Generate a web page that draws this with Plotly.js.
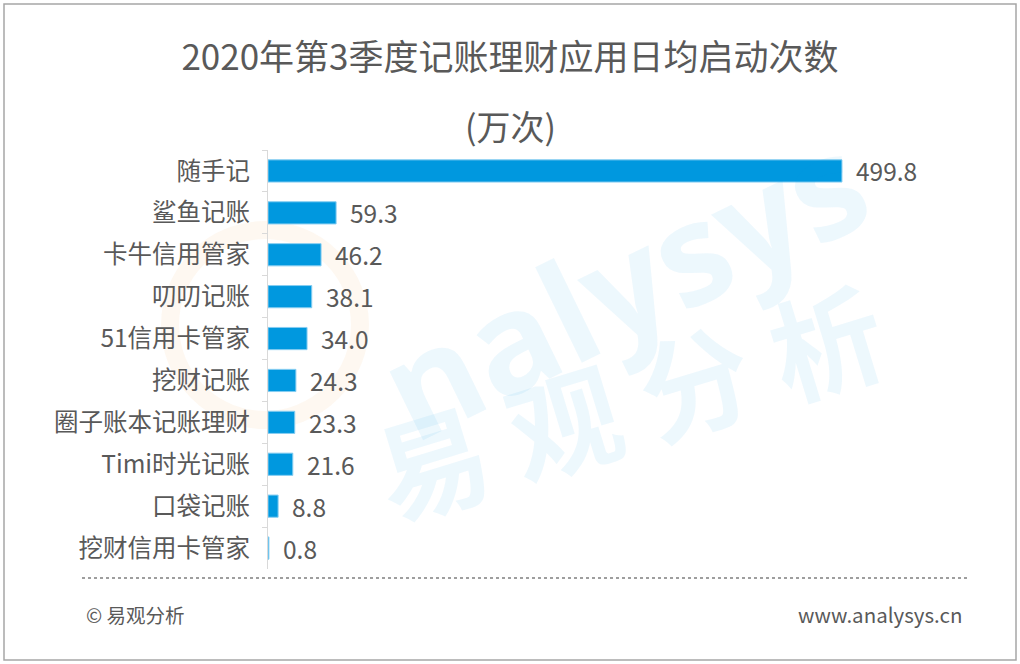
<!DOCTYPE html>
<html>
<head>
<meta charset="utf-8">
<script src="https://cdn.plot.ly/plotly-3.0.1.min.js"></script>
<style>html,body{margin:0;padding:0;background:#fff;}#chart{width:1020px;height:664px;}</style>
</head>
<body>
<div id="chart"></div>
<script>
// ---- data ----
const categories = ["随手记","鲨鱼记账","卡牛信用管家","叨叨记账","51信用卡管家","挖财记账","圈子账本记账理财","Timi时光记账","口袋记账","挖财信用卡管家"];
const values = [499.8, 59.3, 46.2, 38.1, 34.0, 24.3, 23.3, 21.6, 8.8, 0.8];
const titleLine1 = "2020年第3季度记账理财应用日均启动次数";
const titleLine2 = "(万次)";
const footerLeft = "© 易观分析";
const footerRight = "www.analysys.cn";

// ---- layout geometry ----
const W = 1020, H = 664;
const L = 268, T = 150, B = 95, PW = 689;
const R = W - L - PW;
const PH = H - T - B;
const px = x => (x - L) / PW;
const py = y => (H - B - y) / PH;
const FONT = '"Noto Sans CJK SC", "Noto Sans", sans-serif';
const GRAY = '#595959';

const trace = {
  type: 'bar',
  orientation: 'h',
  x: values,
  y: categories,
  marker: {color: '#0098df', line: {color: '#86cdf1', width: 1}},
  hoverinfo: 'none'
};

const valueAnnotations = values.map((v, i) => ({
  x: v, y: categories[i], xref: 'x', yref: 'y',
  xanchor: 'left', yanchor: 'middle', xshift: 12, showarrow: false,
  text: v.toFixed(1), font: {family: FONT, size: 24.5, color: GRAY}
}));

const annotations = [
  // watermarks
  {xref: 'paper', yref: 'paper', x: px(622), y: py(282), xanchor: 'center', yanchor: 'middle',
   showarrow: false, textangle: -26, text: 'nalysys',
   font: {family: '"Open Sans", Lato, sans-serif', size: 140, weight: 'bold', color: 'rgba(0,152,223,0.07)'}},
  {xref: 'paper', yref: 'paper', x: px(628), y: py(398), xanchor: 'center', yanchor: 'middle',
   showarrow: false, textangle: -17, text: '易 观 分 析',
   font: {family: FONT, size: 112, weight: 'bold', color: 'rgba(0,152,223,0.07)'}},
  // second title line
  {xref: 'paper', yref: 'paper', x: px(510), y: py(125), xanchor: 'center', yanchor: 'middle', showarrow: false,
   text: titleLine2, font: {family: FONT, size: 34, color: GRAY}},
  // footer
  {xref: 'paper', yref: 'paper', x: px(84), y: py(614), xanchor: 'left', yanchor: 'middle', showarrow: false,
   text: footerLeft, font: {family: FONT, size: 19.5, color: GRAY}},
  {xref: 'paper', yref: 'paper', x: px(964), y: py(614), xanchor: 'right', yanchor: 'middle', showarrow: false,
   text: footerRight, font: {family: FONT, size: 20.5, color: GRAY}}
].concat(valueAnnotations);

const shapes = [
  // watermark logo ring
  {type: 'circle', xref: 'paper', yref: 'paper', layer: 'below',
   x0: px(170), x1: px(360), y0: py(230), y1: py(420),
   line: {color: 'rgba(248,170,80,0.08)', width: 18}},
  {type: 'line', xref: 'paper', yref: 'paper', x0: px(82), x1: px(968), y0: py(578), y1: py(578),
   line: {color: '#7f7f7f', width: 1.5, dash: 'dot'}},
  {type: 'rect', xref: 'paper', yref: 'paper', x0: px(4), x1: px(1016), y0: py(4), y1: py(660),
   line: {color: '#a6a6a6', width: 1.5}}
];

const layout = {
  width: W, height: H,
  margin: {l: L, r: R, t: T, b: B, pad: 0},
  paper_bgcolor: '#ffffff', plot_bgcolor: 'rgba(0,0,0,0)',
  showlegend: false,
  bargap: 0.47,
  title: {text: titleLine1, xref: 'container', yref: 'container', x: 0.5, y: 1 - 58 / H,
          xanchor: 'center', yanchor: 'middle', font: {family: FONT, size: 35, color: GRAY}},
  xaxis: {visible: false, range: [0, 600], fixedrange: true},
  yaxis: {autorange: 'reversed', showline: true, linecolor: '#d9d9d9', linewidth: 1,
          ticks: 'outside', tickson: 'boundaries', ticklen: 5, tickcolor: '#d9d9d9',
          ticklabelstandoff: 12, showgrid: false, zeroline: false,
          tickfont: {family: FONT, size: 24.5, color: GRAY}, fixedrange: true},
  annotations: annotations,
  shapes: shapes
};

Plotly.newPlot('chart', [trace], layout, {displayModeBar: false, staticPlot: true});
</script>
</body>
</html>
